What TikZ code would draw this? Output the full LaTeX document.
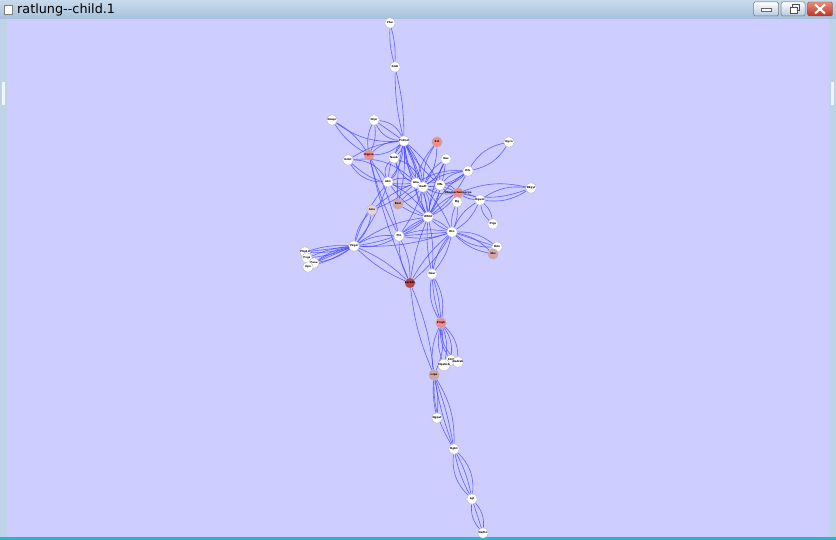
\documentclass[tikz,border=0pt]{standalone}
\usepackage{fontspec}
\setmainfont{DejaVu Sans}
\definecolor{edgeblue}{RGB}{70,70,255}
\definecolor{hotc}{RGB}{240,140,140}
\definecolor{darkc}{RGB}{185,70,70}
\definecolor{warmc}{RGB}{212,165,165}
\definecolor{palec}{RGB}{232,210,218}
\definecolor{framec}{RGB}{190,211,232}
\definecolor{titletop}{RGB}{200,218,236}
\definecolor{titlebot}{RGB}{166,192,218}
\definecolor{canvasc}{RGB}{205,205,255}
\definecolor{cyanline}{RGB}{40,180,205}
\definecolor{btnbot}{RGB}{180,200,225}
\definecolor{clstop}{RGB}{235,140,120}
\definecolor{clsbot}{RGB}{190,50,40}
\begin{document}
\begin{tikzpicture}[x=1pt,y=-1pt,
  edge/.style={draw=edgeblue,line width=0.6pt,opacity=0.8},
  vtx/.style={circle,draw=black!30,line width=0.3pt,fill=white,minimum size=10.5pt,inner sep=0pt,font=\fontsize{2.6}{2.8}\selectfont\bfseries},
  hot/.style={vtx,fill=hotc},
  dark/.style={vtx,fill=darkc},
  warm/.style={vtx,fill=warmc},
  pale/.style={vtx,fill=palec},
  btn/.style={draw=black!55,rounded corners=1.5pt,line width=0.5pt,top color=white,bottom color=btnbot}
]
\pgfdeclarelayer{bg}\pgfdeclarelayer{edges}\pgfsetlayers{bg,edges,main}
\newcommand\ed[3]{\foreach \bb in {#3}{\pgfmathsetmacro\bbb{1.6*\bb}\draw[edge] (#1) to[bend left=\bbb] (#2);}}
\begin{pgfonlayer}{bg}
\fill[framec] (0,0) rectangle (836,540);
\shade[top color=titletop,bottom color=titlebot] (0,0) rectangle (836,19);
\fill[canvasc] (7,19) rectangle (829,537);
\fill[cyanline] (0,537) rectangle (836,540);
\fill[white,opacity=0.8] (2,82) rectangle (5,105);
\fill[white,opacity=0.8] (831,82) rectangle (834,105);
\end{pgfonlayer}
% window chrome
\node[draw=black!50,fill=white,minimum width=8pt,minimum height=9pt,inner sep=0pt] (icon) at (8,10) {};
\node[anchor=west,font=\fontsize{12.8}{13}\selectfont,inner sep=0pt] (title) at (17,10) {ratlung-{}-child.1};
\node[btn,minimum width=25pt,minimum height=14pt] (bmin) at (766,9) {};
\node[btn,minimum width=24pt,minimum height=14pt] (bres) at (793,9) {};
\node[draw=black!60,rounded corners=1.5pt,top color=clstop,bottom color=clsbot,minimum width=25pt,minimum height=14pt] (bcls) at (820,9) {};
\fill[white,draw=black!60,line width=0.3pt] (761,8) rectangle (771,11);
\draw[black!70,line width=0.8pt,fill=white] (790,7) rectangle (797,13);
\draw[black!70,line width=0.8pt] (792,7) -- (792,4.5) -- (799,4.5) -- (799,10) -- (797,10);
\draw[white,line width=2pt] (815,4.5) -- (825,13.5) (825,4.5) -- (815,13.5);
% nodes
\node[vtx] (a) at (390,23) {Pbu};
\node[vtx] (b) at (395,67) {Gmb};
\node[vtx] (c) at (374,120) {Ncpr};
\node[vtx] (d) at (332,120) {Nuspr};
\node[vtx] (e) at (404,141) {Prdmd};
\node[hot] (f) at (437,142) {Sst};
\node[hot] (g) at (369,155) {Ngpsa};
\node[vtx] (h) at (348,160) {Gnbt};
\node[vtx] (i) at (394,158) {Neab};
\node[vtx] (j) at (446,159) {Nas};
\node[vtx] (k) at (509,142) {Dgcn};
\node[vtx] (l) at (468,171) {Dfu};
\node[vtx] (m) at (388,182) {Ab1};
\node[vtx] (n) at (416,183) {Gha};
\node[vtx] (o) at (423,187) {Nudt};
\node[vtx] (p) at (440,185) {Mfa};
\node[hot] (q) at (458,193) {\hspace*{-10pt}Sdmmachemaorge\hspace*{-10pt}};
\node[vtx] (r) at (531,188) {Dkgyl};
\node[vtx] (s) at (480,200) {Ngwm};
\node[vtx] (t) at (457,202) {Mg};
\node[warm] (u) at (398,204) {Bsol};
\node[pale] (v) at (372,210) {Ams};
\node[vtx] (w) at (428,217) {Wfdd};
\node[vtx] (x) at (493,224) {Ptgs};
\node[vtx] (y) at (452,232) {Rtn};
\node[vtx] (z) at (399,236) {Ftn};
\node[vtx] (A) at (354,246) {Pkgd};
\node[vtx] (B) at (497,247) {Ddn};
\node[warm] (C) at (493,254) {Sbs};
\node[vtx] (D) at (305,252) {Pbg1d};
\node[vtx] (E) at (307,258) {Pvgs};
\node[vtx] (F) at (314,263) {Pusu};
\node[vtx] (G) at (308,267) {Xpn};
\node[vtx] (H) at (432,274) {Nsar};
\node[dark] (I) at (410,283) {Sarkds};
\node[hot] (J) at (441,323) {Prrgh};
\node[vtx] (K) at (451,360) {Slc8};
\node[vtx] (L) at (458,362) {Nadrab};
\node[vtx] (M) at (444,365) {Mpsbsb};
\node[warm] (N) at (434,375) {Lspa};
\node[vtx] (O) at (437,418) {Ngpat};
\node[vtx] (P) at (454,449) {Dgb1};
\node[vtx] (Q) at (472,499) {Lgl};
\node[vtx] (R) at (483,533) {Nefhn};
% edges
\begin{pgfonlayer}{edges}
\ed{a}{b}{-5,5}
\ed{b}{e}{-4,4}
\ed{c}{e}{-18,0,18}
\ed{c}{g}{-10,10}
\ed{d}{g}{-8,8}
\ed{d}{e}{-12}
\ed{g}{e}{-12,12}
\ed{g}{z}{-4,4}
\ed{g}{I}{-3}
\ed{e}{m}{-10,10}
\ed{e}{n}{-8,8}
\ed{e}{o}{-10,0,10}
\ed{e}{w}{-6,6}
\ed{e}{h}{-8}
\ed{e}{i}{-10,10}
\ed{e}{u}{-5,5}
\ed{e}{p}{-6,6}
\ed{f}{o}{-10,10}
\ed{f}{n}{-8}
\ed{k}{l}{-14,14}
\ed{r}{s}{-12,12}
\ed{r}{q}{-10,10}
\ed{s}{x}{-12,12}
\ed{s}{y}{-10,10}
\ed{s}{q}{-8,8}
\ed{l}{o}{-10,10}
\ed{l}{p}{-12,12}
\ed{l}{w}{-8,8}
\ed{l}{n}{-10}
\ed{h}{m}{-18,18}
\ed{h}{n}{-15,15}
\ed{i}{m}{-22,22}
\ed{i}{o}{-15,15}
\ed{j}{o}{-10,10}
\ed{j}{w}{-6,6}
\ed{j}{p}{-10}
\ed{v}{A}{-10,10}
\ed{v}{n}{-6,6}
\ed{u}{o}{-8,8}
\ed{u}{w}{-6}
\ed{A}{D}{-6,0,6}
\ed{A}{E}{-5,5}
\ed{A}{F}{-8,0,8}
\ed{A}{G}{-5,5}
\ed{A}{z}{-10,10}
\ed{A}{I}{-6,6}
\ed{A}{w}{-8,8}
\ed{A}{y}{-6}
\ed{A}{m}{-6,6}
\ed{z}{y}{-8,0,8}
\ed{z}{I}{-8,8}
\ed{z}{w}{-6,6}
\ed{z}{o}{-5}
\ed{y}{B}{-12,0,12}
\ed{y}{C}{-10,10}
\ed{y}{I}{-6,6}
\ed{y}{H}{-8,8}
\ed{y}{w}{-6,6}
\ed{y}{t}{-8,8}
\ed{y}{o}{-6}
\ed{w}{H}{-5,5}
\ed{w}{I}{-4}
\ed{w}{o}{-12,12}
\ed{w}{n}{-10,10}
\ed{w}{m}{-8,8}
\ed{w}{p}{-8,8}
\ed{w}{q}{-8,8}
\ed{o}{n}{-20,20}
\ed{o}{p}{-20,20}
\ed{o}{q}{-10,10}
\ed{n}{m}{-15,15}
\ed{p}{q}{-15,15}
\ed{q}{t}{-15,15}
\ed{H}{J}{-12,-4,4,12}
\ed{I}{N}{-5,5}
\ed{J}{K}{-12,12}
\ed{J}{L}{-14,14}
\ed{J}{M}{-10,10}
\ed{J}{N}{-10,10}
\ed{N}{O}{-5,5}
\ed{N}{P}{-10,-3,3,10}
\ed{P}{Q}{-16,-5,5,16}
\ed{Q}{R}{-14,0,14}
\end{pgfonlayer}
\end{tikzpicture}
\end{document}
